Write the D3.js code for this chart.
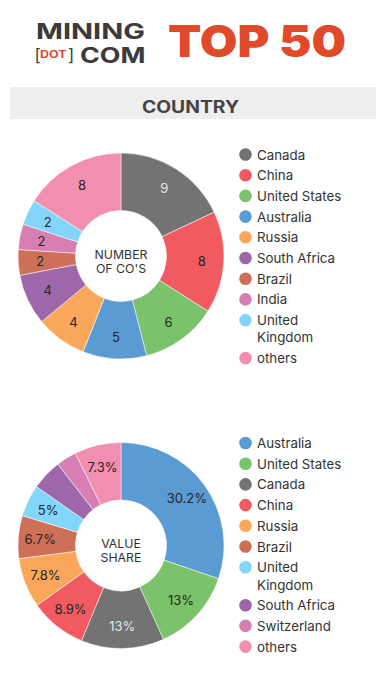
<!DOCTYPE html>
<html>
<head>
<meta charset="utf-8">
<script src="https://cdn.jsdelivr.net/npm/d3@7"></script>
<style>
  html, body { margin: 0; padding: 0; background: #fff; }
  svg { display: block; }
  text { font-family: Inter, "Open Sans", "DejaVu Sans", sans-serif; }
</style>
</head>
<body>
<div id="chart"></div>
<script>
// ---- Data ----
const countCountries = ["Canada", "China", "United States", "Australia", "Russia", "South Africa", "Brazil", "India", "United Kingdom", "others"];
const countValues = [9, 8, 6, 5, 4, 4, 2, 2, 2, 8];

const shareCountries = ["Australia", "United States", "Canada", "China", "Russia", "Brazil", "United Kingdom", "South Africa", "Switzerland", "others"];
const shareValues = [30.2, 13, 13, 8.9, 7.8, 6.7, 5, 4.8, 3.2, 7.3];
const shareLabelMin = 5;

const titleText = "COUNTRY";
const countCenter = ["NUMBER", "OF CO'S"];
const shareCenter = ["VALUE", "SHARE"];

const colorMap = {
  "Canada": "#737373",
  "China": "#f15a60",
  "United States": "#7ac36a",
  "Australia": "#5a9bd4",
  "Russia": "#faa75b",
  "South Africa": "#9e67ab",
  "Brazil": "#ce7058",
  "India": "#d77fb3",
  "Switzerland": "#d77fb3",
  "United Kingdom": "#83d5fa",
  "others": "#f28fb1"
};

// ---- Layout ----
const W = 384, H = 684;
const svg = d3.select("#chart").append("svg").attr("width", W).attr("height", H);

// Header logo
const logoFont = "'Liberation Sans', Arial, sans-serif";
svg.append("text").attr("x", 36).attr("y", 39).attr("font-family", logoFont)
  .attr("font-size", 21.3).attr("font-weight", 700).attr("fill", "#3b3b3b")
  .attr("textLength", 109).attr("lengthAdjust", "spacingAndGlyphs").text("MINING");
const mid = svg.append("text").attr("font-family", logoFont).attr("fill", "#3b3b3b");
mid.append("tspan").attr("x", 34.5).attr("y", 61).attr("font-size", 17).attr("font-weight", 400).text("[");
mid.append("tspan").attr("x", 40).attr("y", 57.5).attr("font-size", 10).attr("font-weight", 700).attr("fill", "#e04a2b")
  .attr("textLength", 26.5).attr("lengthAdjust", "spacingAndGlyphs").text("DOT");
mid.append("tspan").attr("x", 68).attr("y", 61).attr("font-size", 17).attr("font-weight", 400).text("]");
svg.append("text").attr("x", 80).attr("y", 63.2).attr("font-family", logoFont)
  .attr("font-size", 21.3).attr("font-weight", 700).attr("fill", "#3b3b3b")
  .attr("textLength", 65.5).attr("lengthAdjust", "spacingAndGlyphs").text("COM");

svg.append("text").attr("x", 168).attr("y", 57)
  .attr("font-size", 43.5).attr("font-weight", 900).attr("fill", "#e04a2b")
  .attr("textLength", 178).attr("lengthAdjust", "spacingAndGlyphs")
  .text("TOP 50");

// Title band
svg.append("rect").attr("x", 10).attr("y", 87).attr("width", 366).attr("height", 32).attr("fill", "#eeeeee");
svg.append("text").attr("x", 142).attr("y", 112.5)
  .attr("font-size", 17).attr("font-weight", 700).attr("fill", "#444")
  .attr("textLength", 97).attr("lengthAdjust", "spacingAndGlyphs")
  .text(titleText);

const outerR = 103, innerR = 45.5, labelR = 81;

function donut(cx, cy, names, values, labelFn, centerLines, legendTop) {
  const g = svg.append("g").attr("transform", `translate(${cx},${cy})`);
  const data = names.map((n, i) => ({ name: n, value: values[i] }));
  const pie = d3.pie().sort(null).value(d => d.value);
  const arcs = pie(data);
  const arc = d3.arc().innerRadius(innerR).outerRadius(outerR);
  const labelArc = d3.arc().innerRadius(labelR).outerRadius(labelR);

  g.selectAll("path.slice").data(arcs).join("path")
    .attr("class", "slice")
    .attr("d", arc)
    .attr("fill", d => colorMap[d.data.name])
    .attr("stroke", "#fff").attr("stroke-width", 0.5);

  g.selectAll("text.lbl").data(arcs.filter(d => labelFn(d.data) !== null)).join("text")
    .attr("class", "lbl")
    .attr("transform", d => `translate(${labelArc.centroid(d)})`)
    .attr("text-anchor", "middle").attr("dominant-baseline", "central")
    .attr("font-size", 13)
    .attr("fill", d => d.data.name === "Canada" ? "#e6e6e6" : "#262626")
    .text(d => labelFn(d.data));

  g.selectAll("text.ctr").data(centerLines).join("text")
    .attr("class", "ctr")
    .attr("x", 0).attr("y", (d, i) => -2 + i * 14)
    .attr("text-anchor", "middle").attr("dominant-baseline", "central")
    .attr("font-size", 12.3).attr("fill", "#333")
    .text(d => d);

  // Legend
  const lg = svg.append("g");
  let y = legendTop;
  const maxW = 92;
  names.forEach(n => {
    lg.append("circle").attr("cx", 245.5).attr("cy", y).attr("r", 6.3).attr("fill", colorMap[n]);
    const t = lg.append("text").attr("x", 257).attr("y", y)
      .attr("dominant-baseline", "central").attr("font-size", 13.3).attr("fill", "#333").text(n);
    let extra = 0;
    if (t.node().getComputedTextLength() > maxW && n.indexOf(" ") > 0) {
      const words = n.split(" ");
      t.text(null);
      t.append("tspan").attr("x", 257).attr("y", y).text(words[0]);
      t.append("tspan").attr("x", 257).attr("y", y + 17.3).text(words.slice(1).join(" "));
      extra = 17.3;
    }
    y += 20.7 + extra;
  });
}

donut(121, 256, countCountries, countValues, d => String(d.value), countCenter, 154.5);
donut(121, 545.5, shareCountries, shareValues,
  d => d.value >= shareLabelMin ? d3.format("~")(d.value) + "%" : null, shareCenter, 443);
</script>
</body>
</html>
